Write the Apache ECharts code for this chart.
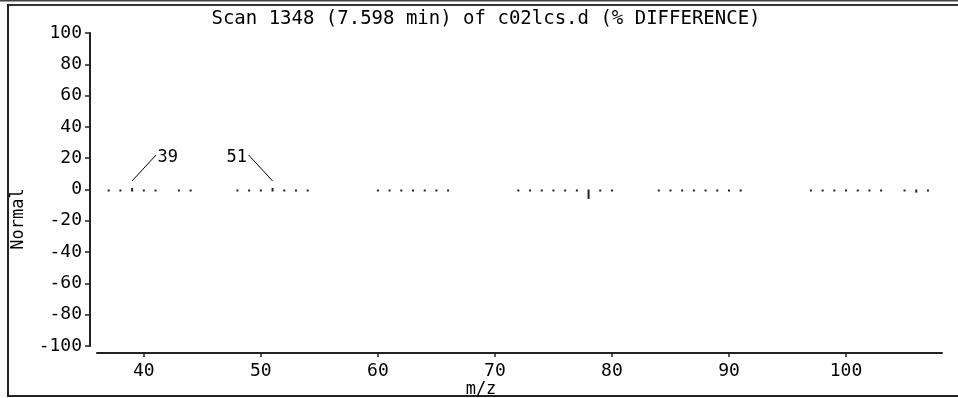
<!DOCTYPE html>
<html><head><meta charset="utf-8">
<script src="https://cdn.jsdelivr.net/npm/echarts@6/dist/echarts.min.js"></script>
<style>html,body{margin:0;padding:0;background:#fff}#c{width:958px;height:398px}</style>
</head><body><div id="c"></div>
<script>
const titleText = 'Scan 1348 (7.598 min) of c02lcs.d (% DIFFERENCE)';
const xName = 'm/z';
const yName = 'Normal';
const mz   = [37,38,39,40,41,43,44, 48,49,50,51,52,53,54, 60,61,62,63,64,65,66, 72,73,74,75,76,77,78,79,80, 84,85,86,87,88,89,90,91, 97,98,99,100,101,102,103, 105,106,107];
const diff = [0, 0, 1, 0, 0, 0, 0,  0, 0, 0, 1, 0, 0, 0,  0, 0, 0, 0, 0, 0, 0,  0, 0, 0, 0, 0, 0,-6, 0, 0,  0, 0, 0, 0, 0, 0, 0, 0,  0, 0, 0, 0,  0,  0,  0,   0, -2,  0];
const labeledMz = [39, 51];
const xTicks = [40, 50, 60, 70, 80, 90, 100];
const yMin = -100, yMax = 100, yStep = 20;

const FONT = 'DejaVu Sans Mono';
const peakData = mz.map((m, i) => [m, diff[i]]);
const labelData = labeledMz.map(m => [m, diff[mz.indexOf(m)]]);

const chart = echarts.init(document.getElementById('c'), null, {renderer: 'canvas'});
chart.setOption({
  animation: false,
  backgroundColor: '#fff',
  grid: {left: 97, right: 16, top: 33, bottom: 52, containLabel: false},
  xAxis: {
    type: 'value', min: 36, max: 108.2, offset: 7,
    axisLine: {show: true, onZero: false, lineStyle: {color: '#222', width: 2}},
    axisTick: {show: true, length: 4, customValues: xTicks, lineStyle: {color: '#222', width: 1.5}},
    axisLabel: {customValues: xTicks, margin: 9, color: '#000', fontFamily: FONT, fontSize: 18},
    splitLine: {show: false}
  },
  yAxis: {
    type: 'value', min: yMin, max: yMax, interval: yStep, offset: 7,
    axisLine: {show: true, onZero: false, lineStyle: {color: '#222', width: 2}},
    axisTick: {show: true, length: 5, lineStyle: {color: '#222', width: 1.5}},
    axisLabel: {margin: 8, color: '#000', fontFamily: FONT, fontSize: 18},
    splitLine: {show: false}
  },
  series: [
    {
      type: 'custom', data: peakData, clip: false,
      renderItem: function (params, api) {
        const x = api.value(0), v = api.value(1);
        const p0 = api.coord([x, 0]);
        const p1 = api.coord([x, v]);
        const top = Math.min(p0[1], p1[1]);
        const bottom = Math.max(p0[1] + 2, p1[1]);
        return {type: 'rect', shape: {x: p0[0] - 1, y: top, width: 2, height: bottom - top}, style: {fill: '#222'}};
      }
    },
    {
      type: 'custom', data: labelData, clip: false,
      renderItem: function (params, api) {
        const x = api.value(0), v = api.value(1);
        const p = api.coord([x, v]);
        const side = params.dataIndex === 0 ? 1 : -1;
        const sx = p[0], sy = p[1] - 7;
        const ex = sx + side * 24, ey = p[1] - 33;
        return {type: 'group', children: [
          {type: 'line', shape: {x1: sx, y1: sy, x2: ex, y2: ey}, style: {stroke: '#000', lineWidth: 1}},
          {type: 'text', x: ex + side * 1.5, y: ey + 2.5,
           style: {text: String(x), fill: '#000', font: '17px "' + FONT + '"',
                   textAlign: side > 0 ? 'left' : 'right', textVerticalAlign: 'middle'}}
        ]};
      }
    }
  ],
  graphic: [
    {type: 'rect', shape: {x: 0, y: 0, width: 958, height: 1.5}, style: {fill: '#444'}},
    {type: 'rect', shape: {x: 7, y: 4, width: 951, height: 2}, style: {fill: '#333'}},
    {type: 'rect', shape: {x: 7, y: 4, width: 2, height: 393}, style: {fill: '#222'}},
    {type: 'rect', shape: {x: 7, y: 395, width: 951, height: 2}, style: {fill: '#222'}},
    {type: 'text', x: 486, y: 19, style: {text: titleText, fill: '#000', font: '19px "' + FONT + '"', textAlign: 'center', textVerticalAlign: 'middle'}},
    {type: 'text', x: 481, y: 390, style: {text: xName, fill: '#000', font: '17px "' + FONT + '"', textAlign: 'center', textVerticalAlign: 'middle'}},
    {type: 'text', x: 19, y: 219, rotation: Math.PI / 2, style: {text: yName, fill: '#000', font: '17px "' + FONT + '"', textAlign: 'center', textVerticalAlign: 'middle'}}
  ]
});
</script>
</body></html>
